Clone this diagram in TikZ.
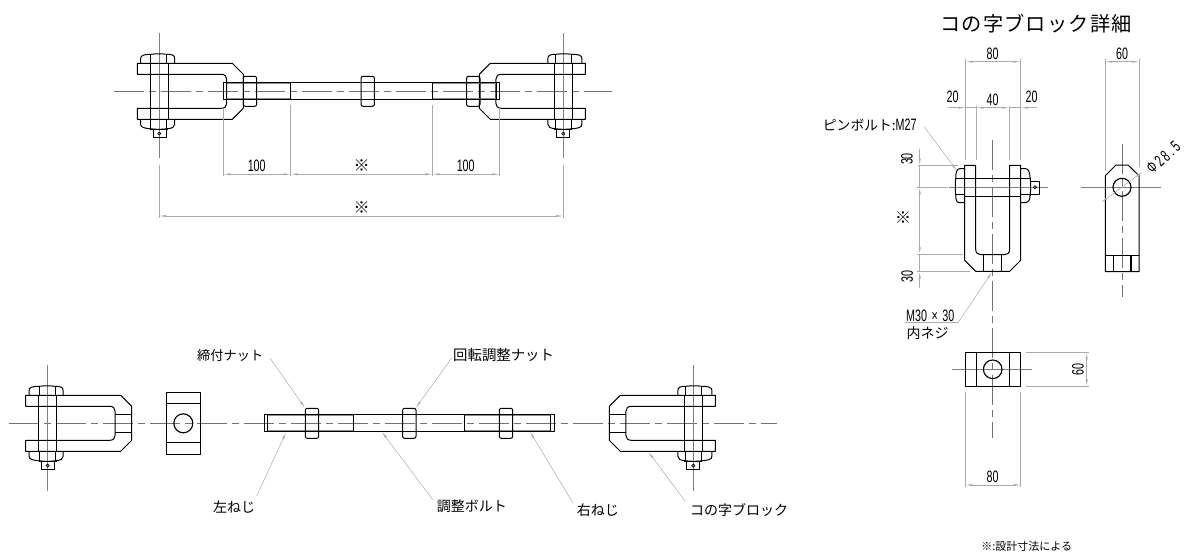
\documentclass[tikz,border=0pt]{standalone}
\usepackage{fontspec}
\usetikzlibrary{arrows.meta}
\newfontfamily\jpf{Noto Sans CJK JP}
\newfontfamily\jpt[LetterSpace=6]{Noto Sans CJK JP}
\newfontfamily\numf[FakeStretch=0.65]{Liberation Sans}
\newfontfamily\numw[FakeStretch=0.65,LetterSpace=14]{Liberation Sans}
\tikzset{
 obj/.style={draw=black,line width=1pt,line join=round},
 hvy/.style={draw=black,line width=1.5pt},
 cen/.style={draw=black!55,line width=0.5pt,dash pattern=on 30pt off 5pt on 7pt off 5pt},
 xln/.style={draw=black!50,line width=0.5pt},
 thr/.style={draw=black!45,line width=1.1pt},
 dimr/.style={draw=black!33,line width=0.55pt},
 dima/.style={dimr,-{Latex[length=7pt,width=2.2pt]}},
 dimb/.style={dimr,{Latex[length=7pt,width=2.2pt]}-{Latex[length=7pt,width=2.2pt]}},
 lead/.style={draw=black!33,line width=0.5pt,-{Latex[length=7pt,width=2.2pt]}},
 lbl/.style={font=\jpf\fontsize{14}{15}\selectfont,inner sep=0pt,anchor=west},
 num/.style={font=\numf\fontsize{16.5}{17}\selectfont,inner sep=0pt},
 kome/.style={inner sep=0pt,font=\jpf\fontsize{16}{17}\selectfont},
}
% clevis block with pin bolt; local origin = bolt centre, +x towards the threaded end
\newcommand{\clevisbody}{%
 \draw[obj,rounded corners=0pt] (-22,-28)--(73,-28)--(84,-17)--(84,17)--(73,28)--(-22,28)--(-22,17)--(62,17)
   .. controls (65.5,17) and (67.4,15) .. (67.4,12)--(67.4,-12)
   .. controls (67.4,-15) and (65.5,-17) .. (62,-17)--(-22,-17)--cycle;
 \draw[obj,line width=1.15pt] (-8.8,-28)--(-8.8,28) (8.8,-28)--(8.8,28);
 \draw[obj,line width=1.15pt] (-8.8,-28)--(8.8,-28) (-8.8,28)--(8.8,28);
 \draw[obj] (-18.6,-28)--(-18.6,-33) .. controls (-18.6,-36) and (-15,-37) .. (-8.6,-37)
    .. controls (-4,-37.6) and (3,-37.6) .. (7.4,-37) .. controls (13,-37) and (15.4,-36) .. (15.4,-33)--(15.4,-28);
 \draw[obj] (-8.6,-37)--(-8.6,-28) (7.4,-37)--(7.4,-28);
 \draw[obj] (-18.6,28)--(-18.6,33) .. controls (-18.6,36) and (-15,37) .. (-8.6,37.5)
    .. controls (-4,38.2) and (3,38.2) .. (7.4,37.5) .. controls (13,37) and (15.4,36) .. (15.4,33)--(15.4,28);
 \draw[obj] (-8.6,28.6)--(-8.6,37.5) (7.4,28.6)--(7.4,37.5);
 \draw[obj,line width=1.2pt] (-9,38)--(9,38);
 \draw[obj] (-6,38)--(-6,46.6)--(7.2,46.6)--(7.2,38);
 \draw[obj,line width=0.7pt] (0,42.3) circle (1.6);
}
\newcommand{\rodnut}[2]{%
 \draw[obj,rounded corners=2pt] ({#1-6.7},{#2-15}) rectangle ({#1+6.7},{#2+15});
 \draw[hvy,line width=1.1pt] ({#1-6.7},{#2-8.5})--({#1+6.7},{#2-8.5}) ({#1-6.7},{#2+8.5})--({#1+6.7},{#2+8.5});
}
\begin{document}
\begin{tikzpicture}[x=1pt,y=-1pt]
\useasboundingbox (0,0) rectangle (1189,554);
%----- centre lines
\draw[cen] (114,91.3)--(611.7,91.3);
\draw[cen] (9,423.3)--(777.3,423.3);
\draw[xln] (159.3,33)--(159.3,158);
\draw[xln] (563.3,33)--(563.3,158);
\draw[xln] (47.7,365)--(47.7,490.7);
\draw[xln] (693.3,365)--(693.3,490.7);
%----- top assembly
\begin{scope}[shift={(159.3,91.3)},x={(1pt,0pt)},y={(0pt,-1pt)}]\clevisbody\end{scope}
\begin{scope}[shift={(563.3,91.3)},x={(-1pt,0pt)},y={(0pt,-1pt)}]\clevisbody\end{scope}
\draw[thr] (226,83.6)--(290.7,83.6) (226,99)--(290.7,99);
\draw[thr] (432.3,83.6)--(497,83.6) (432.3,99)--(497,99);
\draw[obj] (223.3,82.8) rectangle (499.7,99.5);
\draw[obj] (226.2,82.8)--(226.2,99.5) (496.8,82.8)--(496.8,99.5);
\draw[obj] (290.7,82.8)--(290.7,99.5) (432.3,82.8)--(432.3,99.5);
\rodnut{250}{91.3}
\rodnut{367.7}{91.3}
\rodnut{473.3}{91.3}
%----- top dimensions
\draw[dimr] (223.3,108)--(223.3,176) (290.7,105)--(290.7,176) (432.3,105)--(432.3,176) (499.7,108)--(499.7,176);
\draw[dimb] (223.3,174.3)--(290.7,174.3);
\draw[dimb] (290.7,174.3)--(432.3,174.3);
\draw[dimb] (432.3,174.3)--(499.7,174.3);
\draw[dimr] (159.3,165)--(159.3,218) (563.3,165)--(563.3,218);
\draw[dimb] (159.3,216)--(563.3,216);
\node[num] (d100a) at (256.7,166) {100};
\node[num] (d100b) at (465.7,166) {100};
\node[kome] (star1) at (361.7,166) {※};
\node[kome] (star2) at (361.7,207.7) {※};
%----- bottom exploded assembly
\begin{scope}[shift={(47.7,423.3)},x={(1pt,0pt)},y={(0pt,-1pt)}]\clevisbody
 \draw[hvy,line width=1.1pt] (67.4,-9)--(84,-9) (67.4,9)--(84,9);\end{scope}
\begin{scope}[shift={(693.3,423.3)},x={(-1pt,0pt)},y={(0pt,-1pt)}]\clevisbody
 \draw[hvy,line width=1.1pt] (67.4,-9)--(84,-9) (67.4,9)--(84,9);\end{scope}
\draw[obj] (166.7,392.3) rectangle (200,454);
\draw[obj] (166.7,403.3)--(200,403.3) (166.7,442.7)--(200,442.7);
\draw[obj,line width=1.15pt] (183.3,423.3) circle (9.5);
\draw[thr] (267.3,415.6)--(353.3,415.6) (267.3,430.6)--(353.3,430.6);
\draw[thr] (464.3,415.6)--(550.7,415.6) (464.3,430.6)--(550.7,430.6);
\draw[obj] (264.3,414.7) rectangle (554,431.5);
\draw[obj] (267.3,414.7)--(267.3,431.5) (550.7,414.7)--(550.7,431.5);
\draw[obj] (353.3,414.7)--(353.3,431.5) (464.3,414.7)--(464.3,431.5);
\rodnut{312}{423.3}
\rodnut{409.3}{423.3}
\rodnut{506}{423.3}
%----- labels and leaders, bottom
\node[lbl,font=\jpf\fontsize{13.2}{14}\selectfont] (lShime) at (197,355) {締付ナット};
\node[lbl,font=\jpf\fontsize{14.4}{15}\selectfont] (lKaiten) at (453,355.5) {回転調整ナット};
\node[lbl] (lHidari) at (213,506.7) {左ねじ};
\node[lbl] (lChosei) at (436.7,506.7) {調整ボルト};
\node[lbl] (lMigi) at (576.7,510) {右ねじ};
\node[lbl] (lBlock) at (690,510) {コの字ブロック};
\coordinate (a1s) at (270,358); \coordinate (a1e) at (305,408);
\coordinate (a2s) at (451.7,358); \coordinate (a2e) at (415.7,408);
\coordinate (a3s) at (256.7,496); \coordinate (a3e) at (286,432.3);
\coordinate (a4s) at (433,500); \coordinate (a4e) at (381.7,431.7);
\coordinate (a5s) at (573,503); \coordinate (a5e) at (530,431.7);
\coordinate (a6s) at (685,501); \coordinate (a6e) at (648.3,451.7);
\draw[lead] (a1s)--(a1e);
\draw[lead] (a2s)--(a2e);
\draw[lead] (a3s)--(a3e);
\draw[lead] (a4s)--(a4e);
\draw[lead] (a5s)--(a5e);
\draw[lead] (a6s)--(a6e);
%----- detail: title
\node[inner sep=0pt,font=\jpt\fontsize{20.2}{21}\selectfont,anchor=west] (title) at (940,24) {コの字ブロック詳細};
%----- detail: front view
\draw[cen] (992.7,140)--(992.7,438);
\draw[xln] (949,187.3)--(1048,187.3);
\begin{scope}[shift={(992.7,187.3)},x={(0pt,-1pt)},y={(1pt,0pt)}]\clevisbody
 \draw[hvy,line width=1.3pt] (67.4,-9)--(84,-9) (67.4,9)--(84,9);
 \draw[hvy,line width=1.3pt] (-8.8,-28)--(-8.8,-17);\end{scope}
\draw[dimr] (965.7,59)--(965.7,160) (1020.7,59)--(1020.7,160);
\draw[dimb] (965.7,61.7)--(1020.7,61.7);
\draw[dimr] (976.3,106)--(976.3,160) (1009.3,106)--(1009.3,160);
\draw[dima] (948.3,107.7)--(965.7,107.7);
\draw[dima] (1036.7,107.7)--(1020.7,107.7);
\draw[dimr] (965.7,107.7)--(976.3,107.7) (1009.3,107.7)--(1020.7,107.7);
\draw[dimb] (976.3,107.7)--(1009.3,107.7);
\node[num] (d80) at (992.7,54) {80};
\node[num] (d20a) at (952.7,97) {20};
\node[num] (d40) at (992.7,100) {40};
\node[num] (d20b) at (1031.7,97) {20};
\draw[dimr] (918,165.3)--(958,165.3) (917.3,187.3)--(948,187.3) (917,254.3)--(963,254.3) (917,271.7)--(970,271.7);
\draw[dima] (919.7,149)--(919.7,165.3);
\draw[dimr] (919.7,165.3)--(919.7,187.3) (919.7,254.3)--(919.7,271.7);
\draw[dimb] (919.7,187.3)--(919.7,254.3);
\draw[dima] (919.7,287.7)--(919.7,271.7);
\node[num,rotate=90] (d30a) at (907,159) {30};
\node[num,rotate=90] (d30b) at (907.3,276.7) {30};
\node[kome,rotate=90] (star3) at (904,217.7) {※};
\node[lbl,font=\jpf\fontsize{13.8}{14}\selectfont] (lPin) at (822.7,125) {ピンボルト:{\numf\fontsize{16.5}{17}\selectfont M27}};
\coordinate (a7s) at (924.3,126.7); \coordinate (a7e) at (956.7,170.7);
\draw[lead] (a7s)--(a7e);
\node[num,anchor=west] (lM30) at (906,316) {M30\;×\;30};
\node[lbl] (lIn) at (906.5,333) {内ネジ};
\coordinate (a8a) at (905,322.7); \coordinate (a8b) at (958,322.7); \coordinate (a8e) at (992,272);
\draw[draw=black!33,line width=0.5pt] (a8a)--(a8b);
\draw[lead] (a8b)--(a8e);
%----- detail: side view
\draw[cen] (1122,144.3)--(1122,296.7);
\draw[xln] (1081,187.3)--(1160.7,187.3);
\draw[obj] (1105.3,271.7)--(1105.3,175.7)--(1116,165)--(1128,165)--(1139,175.7)--(1139,271.7)--cycle;
\draw[obj] (1105.3,255)--(1139,255);
\draw[hvy,line width=1.2pt] (1113.3,255)--(1113.3,271.7) (1131,255)--(1131,271.7);
\draw[obj,line width=1.15pt] (1122,187.3) circle (9);
\draw[dimr] (1105.3,59)--(1105.3,171) (1139,59)--(1139,166.7);
\draw[dimb] (1105.3,61.7)--(1139,61.7);
\node[num] (d60a) at (1122,54) {60};
\coordinate (a9s) at (1142.7,171.7); \coordinate (a9e) at (1101,202.7);
\draw[dimb] (a9s)--(a9e);
\node[rotate=42,inner sep=0pt,font=\numw\fontsize{16.5}{17}\selectfont] (dPhi) at (1163.3,157.7) {Φ28.5};
%----- detail: end view
\draw[xln] (951.7,369.3)--(1031.7,369.3);
\draw[obj] (965.3,352.3) rectangle (1020.7,386.3);
\draw[obj] (976.3,352.3)--(976.3,386.3) (1009.3,352.3)--(1009.3,386.3);
\draw[obj,line width=1.15pt] (992.7,369.3) circle (9.3);
\draw[dimr] (1026,352.3)--(1089,352.3) (1026,386.3)--(1089,386.3);
\draw[dimb] (1086.7,352.3)--(1086.7,386.3);
\node[num,rotate=90] (d60b) at (1078,369.3) {60};
\draw[dimr] (965.5,391.7)--(965.5,487) (1020.7,391.7)--(1020.7,487);
\draw[dimb] (965.5,485)--(1020.7,485);
\node[num] (d80b) at (992.7,476.7) {80};
\node[font=\jpf\fontsize{11}{12}\selectfont,inner sep=0pt] (note) at (1026.7,546.7) {※:設計寸法による};
\end{tikzpicture}
\end{document}
